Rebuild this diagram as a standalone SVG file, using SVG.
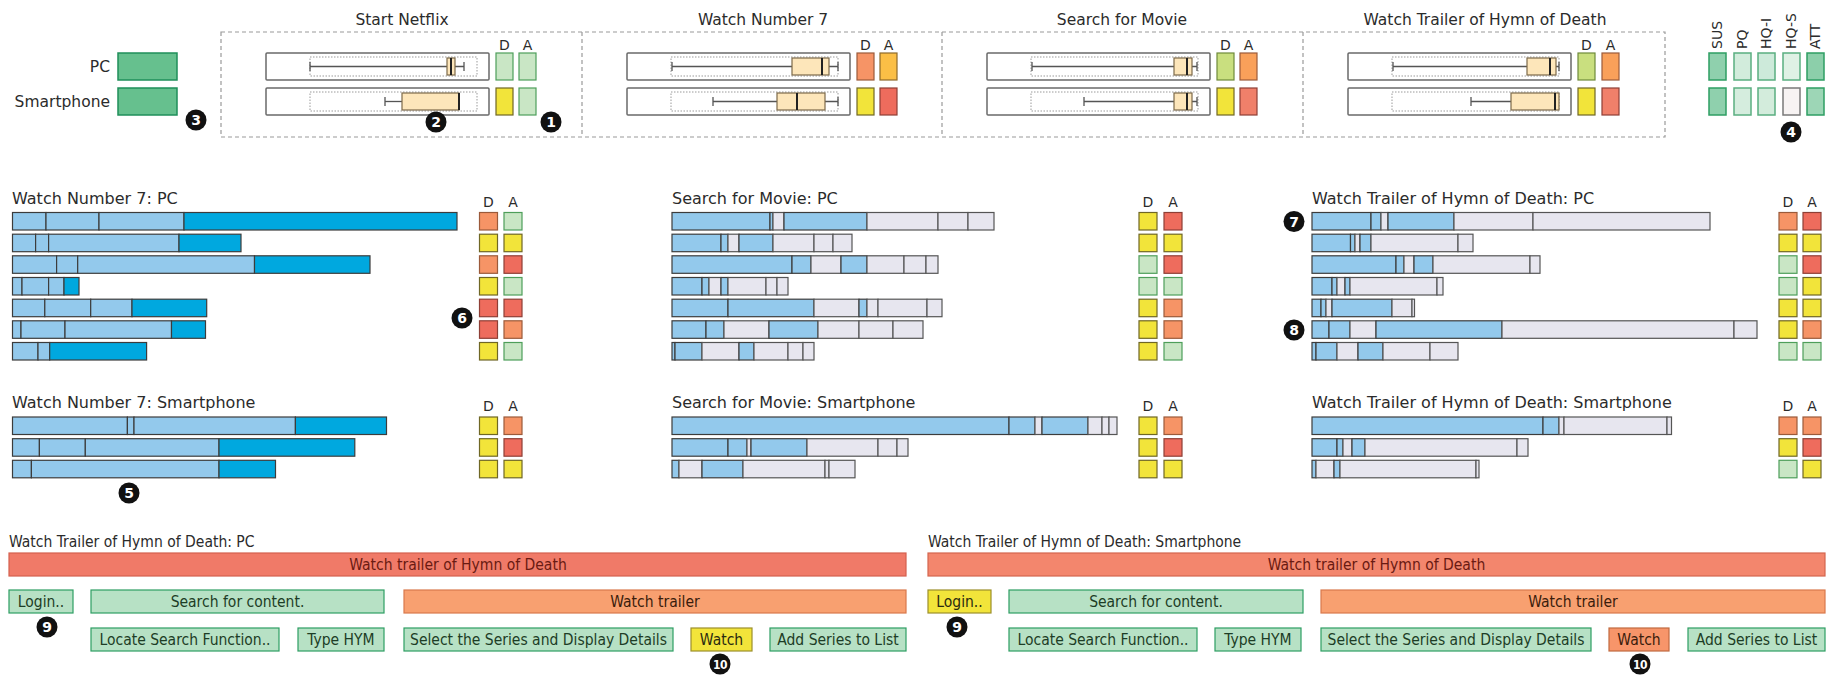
<svg xmlns="http://www.w3.org/2000/svg" width="1833" height="677" viewBox="0 0 1833 677">
<style>
text{font-family:"DejaVu Sans","Liberation Sans",sans-serif;fill:#2b2b2b}
.t15{font-size:15.5px}
.t16{font-size:16px}
.t14{font-size:14px}
.mid{text-anchor:middle}
.end{text-anchor:end}
.nc{fill:#111}
.nt{font-family:"DejaVu Sans","Liberation Sans",sans-serif;font-size:14px;font-weight:bold;fill:#fff;text-anchor:middle}
.nt2{font-family:"DejaVu Sans Condensed","Liberation Sans Narrow","Liberation Sans",sans-serif;font-size:12px;font-weight:bold;fill:#fff;text-anchor:middle;letter-spacing:-0.5px}
.cond{font-family:"DejaVu Sans Condensed","Liberation Sans Narrow","Liberation Sans",sans-serif;font-size:15.5px}
.frame{fill:#fff;stroke:#6a6a6a;stroke-width:1.5}
.dot{fill:none;stroke:#9a9a9a;stroke-width:1;stroke-dasharray:1.5,1.5}
.wh{stroke:#555;stroke-width:1.3;fill:none}
.box{fill:#fde6ba;stroke:#7d6a4a;stroke-width:1.2}
.med{stroke:#222;stroke-width:2}
.b{fill:#93c9ec;stroke:#3c3c3c;stroke-width:1.2}
.k{fill:#00a8df;stroke:#3c3c3c;stroke-width:1.2}
.g{fill:#e7e6ef;stroke:#555;stroke-width:1.2}
.sq rect{stroke-width:1.2}
.Y{fill:#f2e43a;stroke:#6f6725}
.O{fill:#f69466;stroke:#9b5a3a}
.R{fill:#ee6c5d;stroke:#8e3f36}
.L{fill:#c9e6c5;stroke:#4e9e5a}
.M{fill:#fbbf46;stroke:#8e6a2a}
.G{fill:#c9df7f;stroke:#6e8a3a}
.gr{fill:#66c08e;stroke:#1f8f5a;stroke-width:1.5}
.btn{fill:#b7e1c5;stroke:#2e9e63;stroke-width:1.2}
.btt{fill:#1d3d26}
.wt{fill:#f8a070;stroke:#d9794c;stroke-width:1.2}
</style>
<defs>
  <circle id="nb" r="10.5"/>
</defs>

<!-- top legend -->
<g id="legend">
  <text class="t15 end" x="110" y="72">PC</text>
  <rect class="gr" x="118" y="53" width="59" height="27"/>
  <text class="t15 end" x="110" y="107">Smartphone</text>
  <rect class="gr" x="118" y="88" width="59" height="27"/>
  <g id="n3"><use href="#nb" x="196" y="120" class="nc"/><text class="nt" x="196" y="125">3</text></g>
</g>

<g id="overview-frame">
  <rect x="221" y="32" width="1444" height="105" fill="none" stroke="#9a9a9a" stroke-width="1.2" stroke-dasharray="4,3"/>
  <line x1="582" y1="32" x2="582" y2="137" stroke="#9a9a9a" stroke-width="1.2" stroke-dasharray="4,3"/>
  <line x1="942" y1="32" x2="942" y2="137" stroke="#9a9a9a" stroke-width="1.2" stroke-dasharray="4,3"/>
  <line x1="1303" y1="32" x2="1303" y2="137" stroke="#9a9a9a" stroke-width="1.2" stroke-dasharray="4,3"/>
</g>

<!-- panel 1 -->
<g id="panel-start-netflix">
  <text class="t15 mid" x="402" y="25">Start Netflix</text>
  <rect class="frame" x="266" y="53" width="223" height="27" rx="1"/>
  <rect class="dot" x="310" y="57" width="167" height="19"/>
  <line class="wh" x1="310" y1="66.5" x2="464" y2="66.5"/><line class="wh" x1="310" y1="62" x2="310" y2="71"/><line class="wh" x1="464" y1="62" x2="464" y2="71"/>
  <rect class="box" x="447" y="58" width="8" height="17"/><line class="med" x1="451" y1="58" x2="451" y2="75"/>
  <rect class="frame" x="266" y="88" width="223" height="27" rx="1"/>
  <rect class="dot" x="310" y="92" width="167" height="19"/>
  <line class="wh" x1="385" y1="101.5" x2="402" y2="101.5"/><line class="wh" x1="385" y1="97" x2="385" y2="106"/>
  <rect class="box" x="402" y="93" width="57" height="17"/><line class="med" x1="459" y1="93" x2="459" y2="110" stroke-width="3"/>
  <text class="t14 mid" x="504.5" y="50">D</text><text class="t14 mid" x="527.5" y="50">A</text>
  <rect class="L" x="496" y="53" width="17" height="27" stroke-width="1.2"/><rect class="L" x="519" y="53" width="17" height="27" stroke-width="1.2"/>
  <rect class="Y" x="496" y="88" width="17" height="27" stroke-width="1.2"/><rect class="L" x="519" y="88" width="17" height="27" stroke-width="1.2"/>
  <g id="n2"><use href="#nb" x="436" y="122" class="nc"/><text class="nt" x="436" y="127">2</text></g>
  <g id="n1"><use href="#nb" x="551" y="122" class="nc"/><text class="nt" x="551" y="127">1</text></g>
</g>

<!-- panel 2 -->
<g id="panel-watch-number-7">
  <text class="t15 mid" x="763" y="25">Watch Number 7</text>
  <rect class="frame" x="627" y="53" width="223" height="27" rx="1"/>
  <rect class="dot" x="671" y="57" width="167" height="19"/>
  <line class="wh" x1="672" y1="66.5" x2="838" y2="66.5"/><line class="wh" x1="672" y1="62" x2="672" y2="71"/><line class="wh" x1="838" y1="62" x2="838" y2="71"/>
  <rect class="box" x="792" y="58" width="37" height="17"/><line class="med" x1="822" y1="58" x2="822" y2="75"/>
  <rect class="frame" x="627" y="88" width="223" height="27" rx="1"/>
  <rect class="dot" x="671" y="92" width="167" height="19"/>
  <line class="wh" x1="713" y1="101.5" x2="838" y2="101.5"/><line class="wh" x1="713" y1="97" x2="713" y2="106"/><line class="wh" x1="838" y1="97" x2="838" y2="106"/>
  <rect class="box" x="777" y="93" width="48" height="17"/><line class="med" x1="797" y1="93" x2="797" y2="110"/>
  <text class="t14 mid" x="865.5" y="50">D</text><text class="t14 mid" x="888.5" y="50">A</text>
  <rect class="O" x="857" y="53" width="17" height="27" stroke-width="1.2"/><rect class="M" x="880" y="53" width="17" height="27" stroke-width="1.2"/>
  <rect class="Y" x="857" y="88" width="17" height="27" stroke-width="1.2"/><rect class="R" x="880" y="88" width="17" height="27" stroke-width="1.2"/>
</g>

<!-- panel 3 -->
<g id="panel-search-for-movie">
  <text class="t15 mid" x="1122" y="25">Search for Movie</text>
  <rect class="frame" x="987" y="53" width="223" height="27" rx="1"/>
  <rect class="dot" x="1031" y="57" width="167" height="19"/>
  <line class="wh" x1="1032" y1="66.5" x2="1197" y2="66.5"/><line class="wh" x1="1032" y1="62" x2="1032" y2="71"/><line class="wh" x1="1197" y1="62" x2="1197" y2="71"/>
  <rect class="box" x="1174" y="58" width="18" height="17"/><line class="med" x1="1187" y1="58" x2="1187" y2="75"/>
  <rect class="frame" x="987" y="88" width="223" height="27" rx="1"/>
  <rect class="dot" x="1031" y="92" width="167" height="19"/>
  <line class="wh" x1="1084" y1="101.5" x2="1197" y2="101.5"/><line class="wh" x1="1084" y1="97" x2="1084" y2="106"/><line class="wh" x1="1197" y1="97" x2="1197" y2="106"/>
  <rect class="box" x="1174" y="93" width="18" height="17"/><line class="med" x1="1187" y1="93" x2="1187" y2="110"/>
  <text class="t14 mid" x="1225.5" y="50">D</text><text class="t14 mid" x="1248.5" y="50">A</text>
  <rect class="G" x="1217" y="53" width="17" height="27" stroke-width="1.2"/><rect class="O" x="1240" y="53" width="17" height="27" stroke-width="1.2" style="fill:#f9a05a"/>
  <rect class="Y" x="1217" y="88" width="17" height="27" stroke-width="1.2"/><rect class="R" x="1240" y="88" width="17" height="27" stroke-width="1.2" style="fill:#f0806a"/>
</g>

<!-- panel 4 -->
<g id="panel-watch-trailer">
  <text class="t15 mid" x="1485" y="25">Watch Trailer of Hymn of Death</text>
  <rect class="frame" x="1348" y="53" width="223" height="27" rx="1"/>
  <rect class="dot" x="1392" y="57" width="167" height="19"/>
  <line class="wh" x1="1393" y1="66.5" x2="1559" y2="66.5"/><line class="wh" x1="1393" y1="62" x2="1393" y2="71"/><line class="wh" x1="1559" y1="62" x2="1559" y2="71"/>
  <rect class="box" x="1527" y="58" width="29" height="17"/><line class="med" x1="1550" y1="58" x2="1550" y2="75"/>
  <rect class="frame" x="1348" y="88" width="223" height="27" rx="1"/>
  <rect class="dot" x="1392" y="92" width="167" height="19"/>
  <line class="wh" x1="1471" y1="101.5" x2="1511" y2="101.5"/><line class="wh" x1="1471" y1="97" x2="1471" y2="106"/>
  <rect class="box" x="1511" y="93" width="48" height="17"/><line class="med" x1="1555" y1="93" x2="1555" y2="110"/>
  <text class="t14 mid" x="1586.5" y="50">D</text><text class="t14 mid" x="1610.5" y="50">A</text>
  <rect class="G" x="1578" y="53" width="17" height="27" stroke-width="1.2"/><rect class="O" x="1602" y="53" width="17" height="27" stroke-width="1.2" style="fill:#f9a05a"/>
  <rect class="Y" x="1578" y="88" width="17" height="27" stroke-width="1.2"/><rect class="R" x="1602" y="88" width="17" height="27" stroke-width="1.2" style="fill:#f0806a"/>
</g>

<!-- questionnaire metrics -->
<g id="metrics">
  <text class="t14" transform="translate(1722,49) rotate(-90)">SUS</text>
  <text class="t14" transform="translate(1747,49) rotate(-90)">PQ</text>
  <text class="t14" transform="translate(1771,49) rotate(-90)">HQ-I</text>
  <text class="t14" transform="translate(1796,49) rotate(-90)">HQ-S</text>
  <text class="t14" transform="translate(1820,49) rotate(-90)">ATT</text>
  <g stroke-width="1.5">
    <rect x="1709" y="53" width="17" height="27" fill="#8fd0ad" stroke="#2e9e63"/>
    <rect x="1734" y="53" width="17" height="27" fill="#d2ecdc" stroke="#5aae80"/>
    <rect x="1758" y="53" width="17" height="27" fill="#cdeada" stroke="#5aae80"/>
    <rect x="1783" y="53" width="17" height="27" fill="#dff1e5" stroke="#5aae80"/>
    <rect x="1807" y="53" width="17" height="27" fill="#8ccfaa" stroke="#2e9e63"/>
    <rect x="1709" y="88" width="17" height="27" fill="#8fd0ad" stroke="#2e9e63"/>
    <rect x="1734" y="88" width="17" height="27" fill="#d5edde" stroke="#5aae80"/>
    <rect x="1758" y="88" width="17" height="27" fill="#d3ecdc" stroke="#5aae80"/>
    <rect x="1783" y="88" width="17" height="27" fill="#f7f3f3" stroke="#7a7a7a"/>
    <rect x="1807" y="88" width="17" height="27" fill="#9dd6b6" stroke="#2e9e63"/>
  </g>
  <g id="n4"><use href="#nb" x="1791" y="132" class="nc"/><text class="nt" x="1791" y="137">4</text></g>
</g>

<!-- Watch Number 7: PC -->
<g id="wn7-pc">
  <text class="t16" x="12" y="204">Watch Number 7: PC</text>
  <g transform="translate(0,212.5)"><rect class="b" x="12.5" width="33.5" height="17.5"/><rect class="b" x="46" width="53" height="17.5"/><rect class="b" x="99" width="85" height="17.5"/><rect class="k" x="184" width="273" height="17.5"/></g>
  <g transform="translate(0,234.2)"><rect class="b" x="12.5" width="23.1" height="17.5"/><rect class="b" x="35.6" width="13" height="17.5"/><rect class="b" x="48.6" width="130.4" height="17.5"/><rect class="k" x="179" width="62" height="17.5"/></g>
  <g transform="translate(0,255.8)"><rect class="b" x="12.5" width="44.1" height="17.5"/><rect class="b" x="56.6" width="21.1" height="17.5"/><rect class="b" x="77.7" width="176.8" height="17.5"/><rect class="k" x="254.5" width="115.5" height="17.5"/></g>
  <g transform="translate(0,277.5)"><rect class="b" x="12.5" width="9.5" height="17.5"/><rect class="b" x="22" width="26.6" height="17.5"/><rect class="b" x="48.6" width="15.4" height="17.5"/><rect class="k" x="64" width="15" height="17.5"/></g>
  <g transform="translate(0,299.2)"><rect class="b" x="12.5" width="32.3" height="17.5"/><rect class="b" x="44.8" width="45.9" height="17.5"/><rect class="b" x="90.7" width="41.3" height="17.5"/><rect class="k" x="132" width="74.7" height="17.5"/></g>
  <g transform="translate(0,320.8)"><rect class="b" x="12.5" width="8.5" height="17.5"/><rect class="b" x="21" width="44" height="17.5"/><rect class="b" x="65" width="106.5" height="17.5"/><rect class="k" x="171.5" width="34" height="17.5"/></g>
  <g transform="translate(0,342.5)"><rect class="b" x="12.5" width="25.5" height="17.5"/><rect class="b" x="38" width="11.7" height="17.5"/><rect class="k" x="49.7" width="96.9" height="17.5"/></g>
  <text class="t14 mid" x="488.5" y="207">D</text><text class="t14 mid" x="513" y="207">A</text>
  <g class="sq">
    <rect class="O" x="479.5" y="212.5" width="18" height="17.5"/><rect class="L" x="504" y="212.5" width="18" height="17.5"/>
    <rect class="Y" x="479.5" y="234.2" width="18" height="17.5"/><rect class="Y" x="504" y="234.2" width="18" height="17.5"/>
    <rect class="O" x="479.5" y="255.8" width="18" height="17.5"/><rect class="R" x="504" y="255.8" width="18" height="17.5"/>
    <rect class="Y" x="479.5" y="277.5" width="18" height="17.5"/><rect class="L" x="504" y="277.5" width="18" height="17.5"/>
    <rect class="R" x="479.5" y="299.2" width="18" height="17.5"/><rect class="R" x="504" y="299.2" width="18" height="17.5"/>
    <rect class="R" x="479.5" y="320.8" width="18" height="17.5"/><rect class="O" x="504" y="320.8" width="18" height="17.5"/>
    <rect class="Y" x="479.5" y="342.5" width="18" height="17.5"/><rect class="L" x="504" y="342.5" width="18" height="17.5"/>
  </g>
  <g id="n6"><use href="#nb" x="462" y="318" class="nc"/><text class="nt" x="462" y="323">6</text></g>
</g>

<!-- Watch Number 7: Smartphone -->
<g id="wn7-sp">
  <text class="t16" x="12" y="408">Watch Number 7: Smartphone</text>
  <g transform="translate(0,417)"><rect class="b" x="12.5" width="114.9" height="17.5"/><rect class="b" x="127.4" width="6.6" height="17.5"/><rect class="b" x="134" width="161.4" height="17.5"/><rect class="k" x="295.4" width="91.1" height="17.5"/></g>
  <g transform="translate(0,438.7)"><rect class="b" x="12.5" width="26.9" height="17.5"/><rect class="b" x="39.4" width="45.9" height="17.5"/><rect class="b" x="85.3" width="133.7" height="17.5"/><rect class="k" x="219" width="135.8" height="17.5"/></g>
  <g transform="translate(0,460.3)"><rect class="b" x="12.5" width="18.9" height="17.5"/><rect class="b" x="31.4" width="187.6" height="17.5"/><rect class="k" x="219" width="56.5" height="17.5"/></g>
  <text class="t14 mid" x="488.5" y="411">D</text><text class="t14 mid" x="513" y="411">A</text>
  <g class="sq">
    <rect class="Y" x="479.5" y="417" width="18" height="17.5"/><rect class="O" x="504" y="417" width="18" height="17.5"/>
    <rect class="Y" x="479.5" y="438.7" width="18" height="17.5"/><rect class="R" x="504" y="438.7" width="18" height="17.5"/>
    <rect class="Y" x="479.5" y="460.3" width="18" height="17.5"/><rect class="Y" x="504" y="460.3" width="18" height="17.5"/>
  </g>
  <g id="n5"><use href="#nb" x="129" y="493" class="nc"/><text class="nt" x="129" y="498">5</text></g>
</g>

<!-- Search for Movie: PC -->
<g id="sfm-pc">
  <text class="t16" x="672" y="204">Search for Movie: PC</text>
  <g transform="translate(0,212.5)"><rect class="b" x="672" width="98" height="17.5"/><rect class="b" x="770" width="3" height="17.5"/><rect class="g" x="773" width="11" height="17.5"/><rect class="b" x="784" width="83" height="17.5"/><rect class="g" x="867" width="71" height="17.5"/><rect class="g" x="938" width="30" height="17.5"/><rect class="g" x="968" width="26" height="17.5"/></g>
  <g transform="translate(0,234.2)"><rect class="b" x="672" width="49" height="17.5"/><rect class="b" x="721" width="7" height="17.5"/><rect class="g" x="728" width="11" height="17.5"/><rect class="b" x="739" width="34" height="17.5"/><rect class="g" x="773" width="41" height="17.5"/><rect class="g" x="814" width="19" height="17.5"/><rect class="g" x="833" width="19" height="17.5"/></g>
  <g transform="translate(0,255.8)"><rect class="b" x="672" width="120" height="17.5"/><rect class="b" x="792" width="19" height="17.5"/><rect class="g" x="811" width="30" height="17.5"/><rect class="b" x="841" width="26" height="17.5"/><rect class="g" x="867" width="37" height="17.5"/><rect class="g" x="904" width="22" height="17.5"/><rect class="g" x="926" width="12" height="17.5"/></g>
  <g transform="translate(0,277.5)"><rect class="b" x="672" width="30" height="17.5"/><rect class="b" x="702" width="7" height="17.5"/><rect class="g" x="709" width="12" height="17.5"/><rect class="b" x="721" width="7" height="17.5"/><rect class="g" x="728" width="38" height="17.5"/><rect class="g" x="766" width="11" height="17.5"/><rect class="g" x="777" width="11" height="17.5"/></g>
  <g transform="translate(0,299.2)"><rect class="b" x="672" width="56" height="17.5"/><rect class="b" x="728" width="86" height="17.5"/><rect class="g" x="814" width="45" height="17.5"/><rect class="b" x="859" width="8" height="17.5"/><rect class="g" x="867" width="11" height="17.5"/><rect class="g" x="878" width="49" height="17.5"/><rect class="g" x="927" width="15" height="17.5"/></g>
  <g transform="translate(0,320.8)"><rect class="b" x="672" width="34" height="17.5"/><rect class="b" x="706" width="18" height="17.5"/><rect class="g" x="724" width="45" height="17.5"/><rect class="b" x="769" width="49" height="17.5"/><rect class="g" x="818" width="41" height="17.5"/><rect class="g" x="859" width="34" height="17.5"/><rect class="g" x="893" width="30" height="17.5"/></g>
  <g transform="translate(0,342.5)"><rect class="b" x="672" width="3" height="17.5"/><rect class="b" x="675" width="27" height="17.5"/><rect class="g" x="702" width="37" height="17.5"/><rect class="b" x="739" width="15" height="17.5"/><rect class="g" x="754" width="34" height="17.5"/><rect class="g" x="788" width="15" height="17.5"/><rect class="g" x="803" width="11" height="17.5"/></g>
  <text class="t14 mid" x="1148" y="207">D</text><text class="t14 mid" x="1173" y="207">A</text>
  <g class="sq">
    <rect class="Y" x="1139" y="212.5" width="18" height="17.5"/><rect class="R" x="1164" y="212.5" width="18" height="17.5"/>
    <rect class="Y" x="1139" y="234.2" width="18" height="17.5"/><rect class="Y" x="1164" y="234.2" width="18" height="17.5"/>
    <rect class="L" x="1139" y="255.8" width="18" height="17.5"/><rect class="R" x="1164" y="255.8" width="18" height="17.5"/>
    <rect class="L" x="1139" y="277.5" width="18" height="17.5"/><rect class="L" x="1164" y="277.5" width="18" height="17.5"/>
    <rect class="Y" x="1139" y="299.2" width="18" height="17.5"/><rect class="O" x="1164" y="299.2" width="18" height="17.5"/>
    <rect class="Y" x="1139" y="320.8" width="18" height="17.5"/><rect class="O" x="1164" y="320.8" width="18" height="17.5"/>
    <rect class="Y" x="1139" y="342.5" width="18" height="17.5"/><rect class="L" x="1164" y="342.5" width="18" height="17.5"/>
  </g>
</g>

<!-- Search for Movie: Smartphone -->
<g id="sfm-sp">
  <text class="t16" x="672" y="408">Search for Movie: Smartphone</text>
  <g transform="translate(0,417)"><rect class="b" x="672" width="337" height="17.5"/><rect class="b" x="1009" width="26" height="17.5"/><rect class="g" x="1035" width="7" height="17.5"/><rect class="b" x="1042" width="46" height="17.5"/><rect class="g" x="1088" width="14" height="17.5"/><rect class="g" x="1102" width="7" height="17.5"/><rect class="g" x="1109" width="8" height="17.5"/></g>
  <g transform="translate(0,438.7)"><rect class="b" x="672" width="56" height="17.5"/><rect class="b" x="728" width="19" height="17.5"/><rect class="g" x="747" width="4" height="17.5"/><rect class="b" x="751" width="56" height="17.5"/><rect class="g" x="807" width="71" height="17.5"/><rect class="g" x="878" width="19" height="17.5"/><rect class="g" x="897" width="11" height="17.5"/></g>
  <g transform="translate(0,460.3)"><rect class="b" x="672" width="7" height="17.5"/><rect class="g" x="679" width="23" height="17.5"/><rect class="b" x="702" width="41" height="17.5"/><rect class="g" x="743" width="82" height="17.5"/><rect class="g" x="825" width="4" height="17.5"/><rect class="g" x="829" width="26" height="17.5"/></g>
  <text class="t14 mid" x="1148" y="411">D</text><text class="t14 mid" x="1173" y="411">A</text>
  <g class="sq">
    <rect class="Y" x="1139" y="417" width="18" height="17.5"/><rect class="O" x="1164" y="417" width="18" height="17.5"/>
    <rect class="Y" x="1139" y="438.7" width="18" height="17.5"/><rect class="R" x="1164" y="438.7" width="18" height="17.5"/>
    <rect class="Y" x="1139" y="460.3" width="18" height="17.5"/><rect class="Y" x="1164" y="460.3" width="18" height="17.5"/>
  </g>
</g>

<!-- Watch Trailer: PC -->
<g id="wt-pc">
  <text class="t16" x="1312" y="204">Watch Trailer of Hymn of Death: PC</text>
  <g transform="translate(0,212.5)"><rect class="b" x="1312" width="59" height="17.5"/><rect class="b" x="1371" width="10" height="17.5"/><rect class="g" x="1381" width="7" height="17.5"/><rect class="b" x="1388" width="66" height="17.5"/><rect class="g" x="1454" width="79" height="17.5"/><rect class="g" x="1533" width="177" height="17.5"/></g>
  <g transform="translate(0,234.2)"><rect class="b" x="1312" width="38.5" height="17.5"/><rect class="b" x="1350.5" width="4.5" height="17.5"/><rect class="g" x="1355" width="5" height="17.5"/><rect class="b" x="1360" width="11" height="17.5"/><rect class="g" x="1371" width="87" height="17.5"/><rect class="g" x="1458" width="15" height="17.5"/></g>
  <g transform="translate(0,255.8)"><rect class="b" x="1312" width="84" height="17.5"/><rect class="b" x="1396" width="8" height="17.5"/><rect class="g" x="1404" width="10" height="17.5"/><rect class="b" x="1414" width="19" height="17.5"/><rect class="g" x="1433" width="97" height="17.5"/><rect class="g" x="1530" width="10" height="17.5"/></g>
  <g transform="translate(0,277.5)"><rect class="b" x="1312" width="20" height="17.5"/><rect class="b" x="1332" width="5" height="17.5"/><rect class="g" x="1337" width="8" height="17.5"/><rect class="b" x="1345" width="5" height="17.5"/><rect class="g" x="1350" width="87" height="17.5"/><rect class="g" x="1437" width="6" height="17.5"/></g>
  <g transform="translate(0,299.2)"><rect class="b" x="1312" width="9" height="17.5"/><rect class="b" x="1321" width="5" height="17.5"/><rect class="g" x="1326" width="6" height="17.5"/><rect class="b" x="1332" width="60" height="17.5"/><rect class="g" x="1392" width="20" height="17.5"/><rect class="g" x="1412" width="2.5" height="17.5"/></g>
  <g transform="translate(0,320.8)"><rect class="b" x="1312" width="17" height="17.5"/><rect class="b" x="1329" width="21" height="17.5"/><rect class="g" x="1350" width="26" height="17.5"/><rect class="b" x="1376" width="126" height="17.5"/><rect class="g" x="1502" width="232" height="17.5"/><rect class="g" x="1734" width="23" height="17.5"/></g>
  <g transform="translate(0,342.5)"><rect class="b" x="1312" width="4" height="17.5"/><rect class="b" x="1316" width="21" height="17.5"/><rect class="g" x="1337" width="21" height="17.5"/><rect class="b" x="1358" width="25" height="17.5"/><rect class="g" x="1383" width="47" height="17.5"/><rect class="g" x="1430" width="28" height="17.5"/></g>
  <text class="t14 mid" x="1788" y="207">D</text><text class="t14 mid" x="1812" y="207">A</text>
  <g class="sq">
    <rect class="O" x="1779" y="212.5" width="18" height="17.5"/><rect class="R" x="1803" y="212.5" width="18" height="17.5"/>
    <rect class="Y" x="1779" y="234.2" width="18" height="17.5"/><rect class="Y" x="1803" y="234.2" width="18" height="17.5"/>
    <rect class="L" x="1779" y="255.8" width="18" height="17.5"/><rect class="R" x="1803" y="255.8" width="18" height="17.5"/>
    <rect class="L" x="1779" y="277.5" width="18" height="17.5"/><rect class="Y" x="1803" y="277.5" width="18" height="17.5"/>
    <rect class="Y" x="1779" y="299.2" width="18" height="17.5"/><rect class="Y" x="1803" y="299.2" width="18" height="17.5"/>
    <rect class="Y" x="1779" y="320.8" width="18" height="17.5"/><rect class="O" x="1803" y="320.8" width="18" height="17.5"/>
    <rect class="L" x="1779" y="342.5" width="18" height="17.5"/><rect class="L" x="1803" y="342.5" width="18" height="17.5"/>
  </g>
  <g id="n7"><use href="#nb" x="1294" y="221.5" class="nc"/><text class="nt" x="1294" y="226.5">7</text></g>
  <g id="n8"><use href="#nb" x="1294" y="330" class="nc"/><text class="nt" x="1294" y="335">8</text></g>
</g>

<!-- Watch Trailer: Smartphone -->
<g id="wt-sp">
  <text class="t16" x="1312" y="408">Watch Trailer of Hymn of Death: Smartphone</text>
  <g transform="translate(0,417)"><rect class="b" x="1312" width="231" height="17.5"/><rect class="b" x="1543" width="16" height="17.5"/><rect class="g" x="1559" width="5" height="17.5"/><rect class="g" x="1564" width="103" height="17.5"/><rect class="g" x="1667" width="4.5" height="17.5"/></g>
  <g transform="translate(0,438.7)"><rect class="b" x="1312" width="25" height="17.5"/><rect class="b" x="1337" width="6" height="17.5"/><rect class="g" x="1343" width="9" height="17.5"/><rect class="b" x="1352" width="13" height="17.5"/><rect class="g" x="1365" width="152" height="17.5"/><rect class="g" x="1517" width="11" height="17.5"/></g>
  <g transform="translate(0,460.3)"><rect class="b" x="1312" width="4" height="17.5"/><rect class="g" x="1316" width="18" height="17.5"/><rect class="b" x="1334" width="6" height="17.5"/><rect class="g" x="1340" width="136" height="17.5"/><rect class="g" x="1476" width="3" height="17.5"/></g>
  <text class="t14 mid" x="1788" y="411">D</text><text class="t14 mid" x="1812" y="411">A</text>
  <g class="sq">
    <rect class="O" x="1779" y="417" width="18" height="17.5"/><rect class="O" x="1803" y="417" width="18" height="17.5"/>
    <rect class="Y" x="1779" y="438.7" width="18" height="17.5"/><rect class="R" x="1803" y="438.7" width="18" height="17.5"/>
    <rect class="L" x="1779" y="460.3" width="18" height="17.5"/><rect class="Y" x="1803" y="460.3" width="18" height="17.5"/>
  </g>
</g>

<!-- Bottom: PC hierarchy -->
<g id="hta-pc">
  <text class="cond" x="9" y="547">Watch Trailer of Hymn of Death: PC</text>
  <rect x="9" y="553" width="897" height="23" fill="#f07a68" stroke="#d4604f" stroke-width="1.2"/>
  <text class="cond mid" x="458" y="570" style="fill:#6a1a12">Watch trailer of Hymn of Death</text>
  <rect class="btn" x="9" y="590" width="64" height="23"/>
  <text class="cond mid btt" x="41" y="607">Login..</text>
  <rect class="btn" x="91" y="590" width="293" height="23"/>
  <text class="cond mid btt" x="237.5" y="607">Search for content.</text>
  <rect class="wt" x="404" y="590" width="502" height="23"/>
  <text class="cond mid" x="655" y="607" style="fill:#3a1c0c">Watch trailer</text>
  <rect class="btn" x="91" y="628" width="188" height="23"/>
  <text class="cond mid btt" x="185" y="645">Locate Search Function..</text>
  <rect class="btn" x="298" y="628" width="86" height="23"/>
  <text class="cond mid btt" x="341" y="645">Type HYM</text>
  <rect class="btn" x="404" y="628" width="269" height="23"/>
  <text class="cond mid btt" x="538.5" y="645">Select the Series and Display Details</text>
  <rect x="691" y="628" width="61" height="23" fill="#f2e43a" stroke="#9c8f2a" stroke-width="1.2"/>
  <text class="cond mid" x="721.5" y="645" style="fill:#2a2a10">Watch</text>
  <rect class="btn" x="770" y="628" width="136" height="23"/>
  <text class="cond mid btt" x="838" y="645">Add Series to List</text>
  <g id="n9a"><use href="#nb" x="47" y="627" class="nc"/><text class="nt" x="47" y="632">9</text></g>
  <g id="n10a"><use href="#nb" x="720" y="664" class="nc"/><text class="nt2" x="720" y="668.5">10</text></g>
</g>

<!-- Bottom: Smartphone hierarchy -->
<g id="hta-sp">
  <text class="cond" x="928" y="547">Watch Trailer of Hymn of Death: Smartphone</text>
  <rect x="928" y="553" width="897" height="23" fill="#f3866d" stroke="#d4664f" stroke-width="1.2"/>
  <text class="cond mid" x="1376.5" y="570" style="fill:#6a1a12">Watch trailer of Hymn of Death</text>
  <rect x="928" y="590" width="63" height="23" fill="#f2e43a" stroke="#9c8f2a" stroke-width="1.2"/>
  <text class="cond mid" x="959.5" y="607" style="fill:#2a2a10">Login..</text>
  <rect class="btn" x="1009" y="590" width="294" height="23"/>
  <text class="cond mid btt" x="1156" y="607">Search for content.</text>
  <rect class="wt" x="1321" y="590" width="504" height="23"/>
  <text class="cond mid" x="1573" y="607" style="fill:#3a1c0c">Watch trailer</text>
  <rect class="btn" x="1009" y="628" width="188" height="23"/>
  <text class="cond mid btt" x="1103" y="645">Locate Search Function..</text>
  <rect class="btn" x="1215" y="628" width="86" height="23"/>
  <text class="cond mid btt" x="1258" y="645">Type HYM</text>
  <rect class="btn" x="1321" y="628" width="270" height="23"/>
  <text class="cond mid btt" x="1456" y="645">Select the Series and Display Details</text>
  <rect x="1609" y="628" width="60" height="23" fill="#f7956a" stroke="#c06a40" stroke-width="1.2"/>
  <text class="cond mid" x="1639" y="645" style="fill:#3a1c0c">Watch</text>
  <rect class="btn" x="1688" y="628" width="137" height="23"/>
  <text class="cond mid btt" x="1756.5" y="645">Add Series to List</text>
  <g id="n9b"><use href="#nb" x="957" y="627" class="nc"/><text class="nt" x="957" y="632">9</text></g>
  <g id="n10b"><use href="#nb" x="1640" y="664" class="nc"/><text class="nt2" x="1640" y="668.5">10</text></g>
</g>
</svg>
